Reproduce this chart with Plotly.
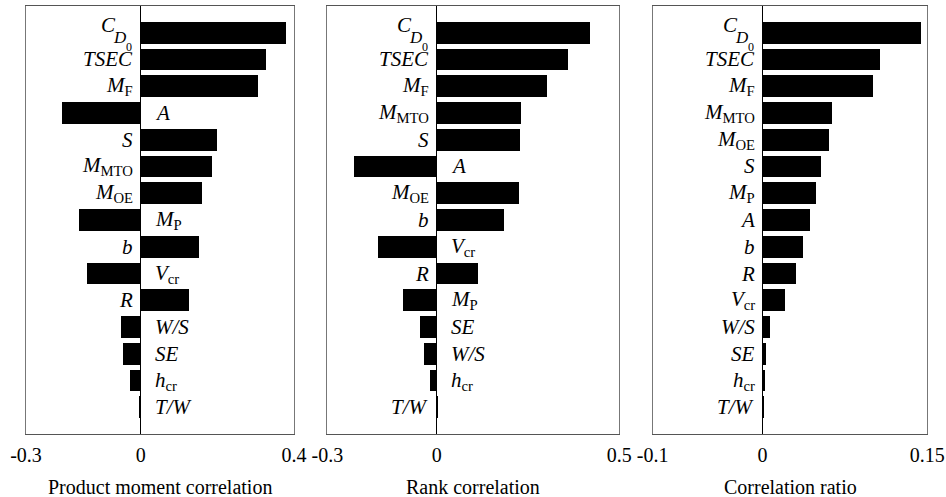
import plotly.graph_objects as go

# ---------------- data ----------------
pm_labels = ["CD0", "TSEC", "MF", "A", "S", "MMTO", "MOE", "MP", "b", "Vcr", "R", "W/S", "SE", "hcr", "T/W"]
pm_values = [0.379, 0.327, 0.307, -0.205, 0.199, 0.187, 0.160, -0.161, 0.152, -0.141, 0.126, -0.052, -0.047, -0.028, -0.003]

rk_labels = ["CD0", "TSEC", "MF", "MMTO", "S", "A", "MOE", "b", "Vcr", "R", "MP", "SE", "W/S", "hcr", "T/W"]
rk_values = [0.421, 0.359, 0.302, 0.231, 0.229, -0.225, 0.225, 0.184, -0.161, 0.114, -0.093, -0.046, -0.033, -0.017, 0.003]

cr_labels = ["CD0", "TSEC", "MF", "MMTO", "MOE", "S", "MP", "A", "b", "R", "Vcr", "W/S", "SE", "hcr", "T/W"]
cr_values = [0.144, 0.107, 0.1005, 0.063, 0.060, 0.0526, 0.048, 0.043, 0.0368, 0.030, 0.0204, 0.0061, 0.0031, 0.0019, 0.0006]

axis_titles = ["Product moment correlation", "Rank correlation", "Correlation ratio"]
x_ranges = [(-0.3, 0.4), (-0.3, 0.5), (-0.1, 0.15)]
x_ticktext = [["-0.3", "0", "0.4"], ["-0.3", "0", "0.5"], ["-0.1", "0", "0.15"]]

label_html = {
    "TSEC": "<i>TSEC</i>",
    "MF": "<i>M</i><sub>F</sub>",
    "A": "<i>A</i>",
    "S": "<i>S</i>",
    "MMTO": "<i>M</i><sub>MTO</sub>",
    "MOE": "<i>M</i><sub>OE</sub>",
    "MP": "<i>M</i><sub>P</sub>",
    "b": "<i>b</i>",
    "Vcr": "<i>V</i><sub>cr</sub>",
    "R": "<i>R</i>",
    "W/S": "<i>W/S</i>",
    "SE": "<i>SE</i>",
    "hcr": "<i>h</i><sub>cr</sub>",
    "T/W": "<i>T/W</i>",
}

W, H = 946, 497
domains = [(26, 294), (327.3, 619.3), (652.7, 927.3)]
y_top, y_bot = 6, 434

FONT = "Liberation Serif, Times New Roman, serif"

fig = go.Figure()
panels = [(pm_labels, pm_values), (rk_labels, rk_values), (cr_labels, cr_values)]
annotations = []

for k, (labs, vals) in enumerate(panels):
    n = k + 1
    xa = "x" if n == 1 else f"x{n}"
    ya = "y" if n == 1 else f"y{n}"
    fig.add_trace(go.Bar(
        x=vals, y=labs, orientation="h", width=0.81,
        marker=dict(color="black", line=dict(width=0)),
        xaxis=xa, yaxis=ya, showlegend=False, hoverinfo="x+y",
    ))
    lo, hi = x_ranges[k]
    fig.layout[f"xaxis{'' if n == 1 else n}"] = dict(
        domain=[domains[k][0] / W, domains[k][1] / W],
        range=[lo, hi], anchor=ya, automargin=False,
        tickvals=[lo, 0, hi], ticktext=x_ticktext[k],
        ticks="outside", ticklen=3, tickcolor="rgba(0,0,0,0)",
        tickfont=dict(family=FONT, size=20, color="black"),
        showgrid=False, zeroline=True, zerolinecolor="black", zerolinewidth=1,
        showline=True, mirror=True, linecolor="#555", linewidth=1,
        fixedrange=True,
    )
    fig.layout[f"yaxis{'' if n == 1 else n}"] = dict(
        domain=[1 - y_bot / H, 1 - y_top / H],
        type="category", categoryorder="array", categoryarray=labs,
        range=[15, -1], anchor=xa, automargin=False,
        showticklabels=False, ticks="", showgrid=False, zeroline=False,
        showline=True, mirror=True, linecolor="#777", linewidth=1,
        fixedrange=True,
    )
    # axis title
    annotations.append(dict(
        text=axis_titles[k], xref="paper", yref="paper",
        x=(domains[k][0] + domains[k][1]) / 2 / W, y=0,
        xanchor="center", yanchor="bottom", yshift=-3,
        showarrow=False, font=dict(family=FONT, size=20, color="black"),
    ))
    # bar labels
    for lab, v in zip(labs, vals):
        pos = v >= 0
        if lab == "CD0":
            # C, D subscript and 0 sub-subscript
            annotations.append(dict(text="<i>C</i>", xref=xa, yref=ya, x=0, y=lab,
                                    xanchor="right", yanchor="middle", xshift=-23, yshift=8,
                                    showarrow=False, font=dict(family=FONT, size=21, color="black")))
            annotations.append(dict(text="<i>D</i>", xref=xa, yref=ya, x=0, y=lab,
                                    xanchor="right", yanchor="middle", xshift=-12, yshift=-5,
                                    showarrow=False, font=dict(family=FONT, size=17, color="black")))
            annotations.append(dict(text="0", xref=xa, yref=ya, x=0, y=lab,
                                    xanchor="right", yanchor="middle", xshift=-7, yshift=-14,
                                    showarrow=False, font=dict(family=FONT, size=12, color="black")))
            continue
        annotations.append(dict(
            text=label_html[lab], xref=xa, yref=ya, x=0, y=lab,
            xanchor="right" if pos else "left", yanchor="middle",
            xshift=-6 if pos else 12, yshift=0,
            showarrow=False, font=dict(family=FONT, size=21, color="black"),
        ))

fig.update_layout(
    width=W, height=H, margin=dict(l=0, r=0, t=0, b=0, autoexpand=False),
    paper_bgcolor="white", plot_bgcolor="white",
    annotations=annotations, bargap=0,
)

fig.write_html("out.html")
